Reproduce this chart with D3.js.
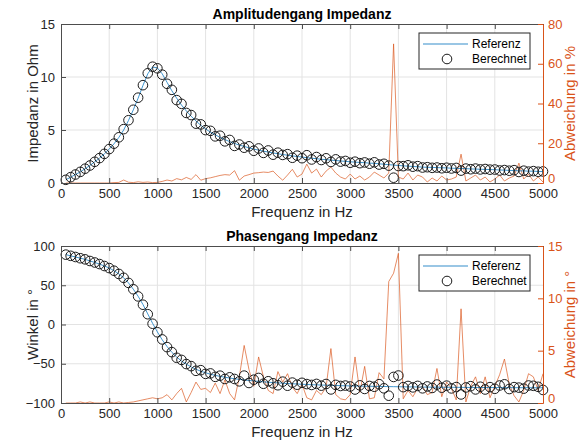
<!DOCTYPE html>
<html><head><meta charset="utf-8">
<script src="https://cdn.jsdelivr.net/npm/d3@7"></script>
<style>
html,body{margin:0;padding:0;background:#fff;}
svg{display:block;font-family:"Liberation Sans",Arial,Helvetica,sans-serif;}
</style></head>
<body><svg id="c" width="582" height="445"></svg>
<script>
// ---------- data ----------
const freq = [
  50,100,150,200,250,300,350,400,450,500,
  550,600,650,700,750,800,850,900,950,1000,
  1050,1100,1150,1200,1250,1300,1350,1400,1450,1500,
  1550,1600,1650,1700,1750,1800,1850,1900,1950,2000,
  2050,2100,2150,2200,2250,2300,2350,2400,2450,2500,
  2550,2600,2650,2700,2750,2800,2850,2900,2950,3000,
  3050,3100,3150,3200,3250,3300,3350,3400,3450,3500,
  3550,3600,3650,3700,3750,3800,3850,3900,3950,4000,
  4050,4100,4150,4200,4250,4300,4350,4400,4450,4500,
  4550,4600,4650,4700,4750,4800,4850,4900,4950,5000];

const ampRef = [
  0.3,0.55,0.8,1.05,1.35,1.65,2.0,2.35,2.75,3.2,
  3.7,4.3,5.0,5.9,6.9,8.0,9.2,10.3,10.95,10.85,
  10.3,9.5,8.7,8.0,7.35,6.8,6.3,5.85,5.45,5.1,
  4.8,4.55,4.3,4.1,3.9,3.73,3.58,3.45,3.32,3.2,
  3.1,3.0,2.92,2.84,2.76,2.69,2.62,2.56,2.5,2.45,
  2.39,2.34,2.29,2.24,2.2,2.16,2.12,2.08,2.04,2.0,
  1.97,1.94,1.91,1.88,1.85,1.81,1.77,1.73,1.69,1.65,
  1.62,1.59,1.56,1.53,1.5,1.48,1.47,1.45,1.44,1.42,
  1.4,1.38,1.37,1.35,1.33,1.31,1.3,1.28,1.27,1.25,
  1.23,1.21,1.19,1.17,1.15,1.14,1.12,1.11,1.09,1.08];

const ampCalc = [
  0.3,0.55,0.8,1.05,1.35,1.65,2.0,2.35,2.75,3.2,
  3.71,4.31,5.08,5.92,6.91,8.05,9.23,10.35,10.97,10.82,
  10.22,9.36,8.79,7.82,7.47,6.61,6.41,5.6,5.53,4.99,
  4.92,4.4,4.46,3.93,4.06,3.5,3.63,3.33,3.46,3.04,
  3.26,2.84,3.07,2.67,2.86,2.65,2.72,2.38,2.58,2.34,
  2.62,2.22,2.45,2.17,2.33,1.99,2.23,2.02,2.08,1.91,
  2.01,1.87,1.94,1.82,1.95,1.74,1.81,1.64,0.5,1.6,
  1.59,1.67,1.54,1.59,1.46,1.49,1.43,1.46,1.39,1.44,
  1.37,1.42,1.17,1.36,1.3,1.36,1.28,1.32,1.26,1.27,
  1.18,1.22,1.16,1.21,1.04,1.16,1.07,1.12,1.06,1.09];

const ampErr = [
  0,0,0,0,0,0,0,0,0,0,
  0.2,0.3,1.5,0.4,0.2,0.6,0.3,0.5,0.2,0.3,
  0.8,1.5,1.0,2.2,1.6,2.8,1.8,4.2,1.4,2.2,
  2.6,3.2,3.8,4.2,4.0,6.2,1.4,3.5,4.2,5.0,
  5.2,5.5,5.3,6.0,3.5,1.4,4.0,6.9,3.0,4.5,
  9.5,5.0,7.0,3.0,6.0,8.0,5.0,3.0,2.0,4.5,
  2.0,3.5,1.5,3.0,5.5,4.0,2.5,5.0,70,3.0,
  2.0,5.0,1.5,4.0,3.0,0.5,2.5,1.0,3.5,1.5,
  2.0,3.0,14.5,1.0,2.5,4.0,1.5,3.0,0.5,2.0,
  4.0,1.0,2.5,3.5,10.0,2.0,4.5,1.0,3.0,0.5];

const phaseRef = [
  89,87.5,86,84.5,83,81,79,77,74.5,72,
  68.5,64.5,59.5,53,45,36,25.5,13.5,1.5,-9.5,
  -19.5,-28,-35.5,-41.5,-46.5,-50.5,-54,-57,-59.5,-61.5,
  -63.3,-64.8,-66.1,-67.2,-68.2,-69.1,-69.9,-70.6,-71.3,-71.9,
  -72.5,-73,-73.5,-74,-74.4,-74.8,-75.2,-75.5,-75.8,-76.1,
  -76.4,-76.7,-76.9,-77.1,-77.3,-77.5,-77.7,-77.9,-78.1,-78.2,
  -78.4,-78.5,-78.6,-78.7,-78.8,-78.9,-79,-79.1,-79.2,-79.3,
  -79.4,-79.5,-79.5,-79.6,-79.7,-79.7,-79.8,-79.8,-79.9,-79.9,
  -80,-80,-80.1,-80.1,-80.2,-80.2,-80.2,-80.3,-80.3,-80.3,
  -80.4,-80.4,-80.4,-80.5,-80.5,-80.5,-80.5,-80.6,-80.6,-80.6];

const phaseCalc = [
  89,87.5,86,84.4,83,80.9,79,77,74.5,71.9,
  68.5,64.4,59.5,53,44.9,35.8,25.2,13.1,1,-9.9,
  -19,-28.8,-35.2,-42.4,-45.1,-50.4,-53,-59,-58.2,-62.9,
  -62.3,-66.7,-65.2,-69.4,-67.3,-69.4,-72.4,-65.1,-74.5,-70.3,
  -68.1,-75.5,-72.3,-74.9,-77.4,-72.8,-78,-74,-76.7,-74.3,
  -75.9,-77,-75.7,-77.9,-75.8,-82.7,-76.9,-78.3,-77.8,-79,
  -82.8,-77.5,-82.1,-78.3,-79.3,-76,-81.3,-90.7,-66.8,-65,
  -79.8,-78.3,-80.1,-78.2,-81.3,-78.9,-80.8,-76.5,-80.5,-77.9,
  -81.4,-79.7,-89.1,-80.2,-78.6,-82.7,-79.3,-82.8,-79.8,-81.9,
  -77.7,-76.2,-82.2,-79.8,-80.4,-81.7,-77.7,-78.1,-79.4,-83.4];

const phaseErr = [
  0,0,0,0.1,0,0.1,0,0,0,0.1,
  0,0.1,0,0.05,0.1,0.2,0.3,0.4,0.5,0.4,
  0.5,0.8,0.3,0.9,1.4,0.1,1.0,2.0,1.3,1.4,
  1.0,1.9,0.9,2.2,0.9,0.3,2.5,5.5,3.2,1.6,
  4.4,2.5,1.2,0.9,3.0,2.0,2.8,1.5,0.9,1.8,
  0.5,0.3,1.2,0.8,1.5,5.2,0.8,0.4,0.3,0.8,
  4.4,1.0,3.5,0.4,0.5,2.9,2.3,11.6,12.4,14.3,
  0.4,1.2,0.6,1.4,1.6,0.8,1.0,3.3,0.6,2.0,
  1.4,0.3,9.0,0.1,1.6,2.5,0.9,2.5,0.5,1.6,
  2.7,4.2,1.8,0.7,0.1,1.2,2.8,2.5,1.2,2.8];

const xTicks = [0,500,1000,1500,2000,2500,3000,3500,4000,4500,5000];
const ampTicks = [0,5,10,15];
const ampErrTicks = [0,20,40,60,80];
const phaseTicks = [-100,-50,0,50,100];
const phaseErrTicks = [0,5,10,15];
const legendLabels = ["Referenz","Berechnet"];

// ---------- drawing ----------
const svg = d3.select("#c");
const AX = "#4d4d4d", TXT = "#262626", RED = "#D95319", BLUE = "#0072BD";

function panel(o){
  const x = d3.scaleLinear().domain([0,5000]).range([61,543]);
  const yL = d3.scaleLinear().domain(o.lDom).range([o.bottom,o.top]);
  const yR = d3.scaleLinear().domain(o.rDom).range([o.bottom,o.top]);
  const g = svg.append("g");

  // grid
  g.append("g").selectAll("line").data(xTicks.slice(1,-1)).join("line")
    .attr("x1",d=>x(d)).attr("x2",d=>x(d)).attr("y1",o.top).attr("y2",o.bottom)
    .attr("stroke","#e3e3e3").attr("stroke-width",1);
  g.append("g").selectAll("line").data(o.lTicks.slice(1,-1)).join("line")
    .attr("y1",d=>yL(d)).attr("y2",d=>yL(d)).attr("x1",61).attr("x2",543)
    .attr("stroke","#e3e3e3").attr("stroke-width",1);

  // error line (right axis)
  g.append("path").datum(freq.map((f,i)=>[f,o.err[i]]))
    .attr("fill","none").attr("stroke",RED).attr("stroke-width",0.9).attr("stroke-opacity",0.75)
    .attr("d",d3.line().x(d=>x(d[0])).y(d=>yR(d[1])));

  // reference line
  g.append("path").datum(freq.map((f,i)=>[f,o.ref[i]]))
    .attr("fill","none").attr("stroke",BLUE).attr("stroke-width",1).attr("stroke-opacity",0.75)
    .attr("d",d3.line().x(d=>x(d[0])).y(d=>yL(d[1])));

  // computed circles
  g.append("g").selectAll("circle").data(freq.map((f,i)=>[f,o.calc[i]])).join("circle")
    .attr("cx",d=>x(d[0])).attr("cy",d=>yL(d[1])).attr("r",4.8)
    .attr("fill","none").attr("stroke","#1a1a1a").attr("stroke-width",1);

  // axes
  const xb = g.append("g").attr("transform",`translate(0,${o.bottom})`)
    .call(d3.axisBottom(x).tickValues(xTicks).tickSizeInner(-5).tickSizeOuter(0).tickPadding(6).tickFormat(d3.format("d")));
  const xt = g.append("g").attr("transform",`translate(0,${o.top})`)
    .call(d3.axisTop(x).tickValues(xTicks).tickSizeInner(-5).tickSizeOuter(0).tickFormat(""));
  const yl = g.append("g").attr("transform","translate(61,0)")
    .call(d3.axisLeft(yL).tickValues(o.lTicks).tickSizeInner(-5).tickSizeOuter(0).tickPadding(6).tickFormat(d3.format("d")));
  const yr = g.append("g").attr("transform","translate(543,0)")
    .call(d3.axisRight(yR).tickValues(o.rTicks).tickSizeInner(-5).tickSizeOuter(0).tickPadding(5).tickFormat(d3.format("d")));
  [xb,xt,yl].forEach(a=>{a.selectAll("path,line").attr("stroke",AX);a.selectAll("text").attr("fill",TXT).style("font-size","13px").style("font-family","inherit");});
  yr.selectAll("path,line").attr("stroke",RED);
  yr.selectAll("text").attr("fill",RED).style("font-size","13px").style("font-family","inherit");
  // keep the lowest right-axis label just above the x labels
  yr.selectAll(".tick text").filter(d=>d===o.rDom[0]).attr("dy","-0.02em");

  // title
  g.append("text").attr("x",302).attr("y",o.top-5).attr("text-anchor","middle")
    .style("font-size","14px").style("font-weight","bold").attr("fill","#000").text(o.title);
  // x label
  g.append("text").attr("x",302).attr("y",o.bottom+34).attr("text-anchor","middle")
    .style("font-size","15px").attr("fill",TXT).text("Frequenz in Hz");
  // y labels
  g.append("text").attr("transform",`translate(38,${(o.top+o.bottom)/2}) rotate(-90)`).attr("text-anchor","middle")
    .style("font-size","15px").attr("fill",TXT).text(o.lLabel);
  g.append("text").attr("transform",`translate(575,${(o.top+o.bottom)/2}) rotate(-90)`).attr("text-anchor","middle")
    .style("font-size","15px").attr("fill",RED).text(o.rLabel);

  // legend
  const lx=419, ly=o.top+9, lw=111, lh=36;
  const lg = g.append("g");
  lg.append("rect").attr("x",lx).attr("y",ly).attr("width",lw).attr("height",lh)
    .attr("fill","#fff").attr("stroke","#262626").attr("stroke-width",1);
  lg.append("line").attr("x1",lx+4).attr("x2",lx+49).attr("y1",ly+11).attr("y2",ly+11)
    .attr("stroke",BLUE).attr("stroke-width",1).attr("stroke-opacity",0.8);
  lg.append("circle").attr("cx",lx+28).attr("cy",ly+26).attr("r",4.8)
    .attr("fill","none").attr("stroke","#1a1a1a").attr("stroke-width",1);
  lg.selectAll("text.l").data(legendLabels).join("text").attr("class","l")
    .attr("x",lx+53).attr("y",(d,i)=>ly+15+i*15)
    .style("font-size","12px").attr("fill","#000").text(d=>d);
}

panel({top:24,bottom:183,lDom:[0,15],rDom:[0,80],lTicks:ampTicks,rTicks:ampErrTicks,
  ref:ampRef,calc:ampCalc,err:ampErr,title:"Amplitudengang Impedanz",
  lLabel:"Impedanz in Ohm",rLabel:"Abweichung in %"});
panel({top:246,bottom:403,lDom:[-100,100],rDom:[0,15],lTicks:phaseTicks,rTicks:phaseErrTicks,
  ref:phaseRef,calc:phaseCalc,err:phaseErr,title:"Phasengang Impedanz",
  lLabel:"Winkel in °",rLabel:"Abweichung in °"});
</script></body></html>
